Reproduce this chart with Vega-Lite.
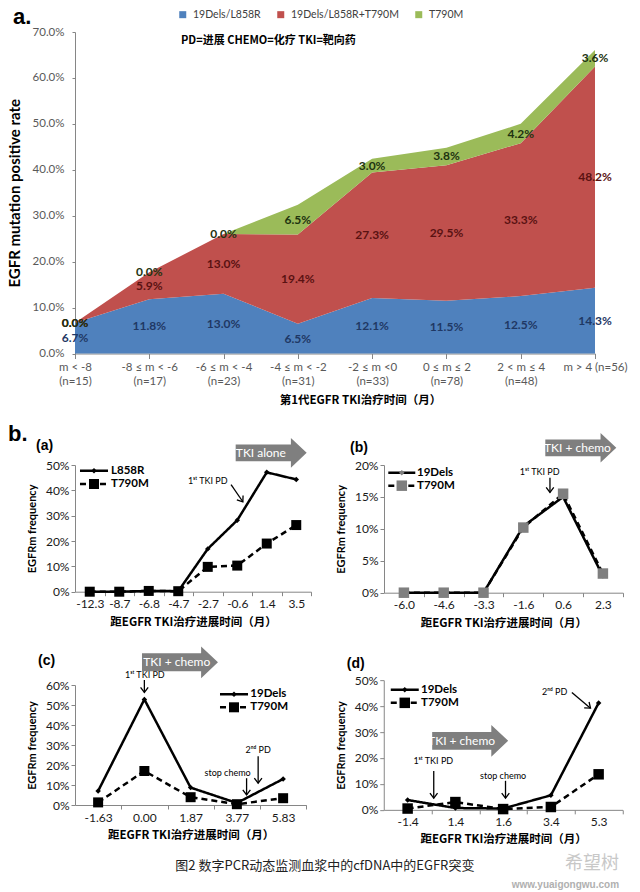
{
"$schema": "https://vega.github.io/schema/vega-lite/v6.json",
"padding": {"left": 7, "top": 6, "right": 5, "bottom": 0},
"config": {
  "view": {"stroke": null},
  "axis": {"grid": false, "domainColor": "#868686", "tickColor": "#868686", "labelFont": "Lato", "titleFont": "Lato"},
  "title": {"font": "Liberation Sans", "color": "black"},
  "legend": {"padding": 0}
},
"resolve": {"scale": {"color": "independent", "fill": "independent", "strokeDash": "independent", "shape": "independent", "size": "independent"}, "legend": {"color": "independent"}},
"datasets": {
  "rates": [
    {"i": 0, "k": 0, "series": "19Dels/L858R", "v": 0.067},
    {"i": 0, "k": 1, "series": "19Dels/L858R+T790M", "v": 0.0},
    {"i": 0, "k": 2, "series": "T790M", "v": 0.0},
    {"i": 1, "k": 0, "series": "19Dels/L858R", "v": 0.118},
    {"i": 1, "k": 1, "series": "19Dels/L858R+T790M", "v": 0.059},
    {"i": 1, "k": 2, "series": "T790M", "v": 0.0},
    {"i": 2, "k": 0, "series": "19Dels/L858R", "v": 0.13},
    {"i": 2, "k": 1, "series": "19Dels/L858R+T790M", "v": 0.13},
    {"i": 2, "k": 2, "series": "T790M", "v": 0.0},
    {"i": 3, "k": 0, "series": "19Dels/L858R", "v": 0.065},
    {"i": 3, "k": 1, "series": "19Dels/L858R+T790M", "v": 0.194},
    {"i": 3, "k": 2, "series": "T790M", "v": 0.065},
    {"i": 4, "k": 0, "series": "19Dels/L858R", "v": 0.121},
    {"i": 4, "k": 1, "series": "19Dels/L858R+T790M", "v": 0.273},
    {"i": 4, "k": 2, "series": "T790M", "v": 0.03},
    {"i": 5, "k": 0, "series": "19Dels/L858R", "v": 0.115},
    {"i": 5, "k": 1, "series": "19Dels/L858R+T790M", "v": 0.295},
    {"i": 5, "k": 2, "series": "T790M", "v": 0.038},
    {"i": 6, "k": 0, "series": "19Dels/L858R", "v": 0.125},
    {"i": 6, "k": 1, "series": "19Dels/L858R+T790M", "v": 0.333},
    {"i": 6, "k": 2, "series": "T790M", "v": 0.042},
    {"i": 7, "k": 0, "series": "19Dels/L858R", "v": 0.143},
    {"i": 7, "k": 1, "series": "19Dels/L858R+T790M", "v": 0.482},
    {"i": 7, "k": 2, "series": "T790M", "v": 0.036}
  ],
  "pa": [
    {"i": 0, "series": "L858R", "v": 0}, {"i": 1, "series": "L858R", "v": 0}, {"i": 2, "series": "L858R", "v": 0.3}, {"i": 3, "series": "L858R", "v": 0.2},
    {"i": 4, "series": "L858R", "v": 16.9}, {"i": 5, "series": "L858R", "v": 28.2}, {"i": 6, "series": "L858R", "v": 47.1}, {"i": 7, "series": "L858R", "v": 44.3},
    {"i": 0, "series": "T790M", "v": 0}, {"i": 1, "series": "T790M", "v": 0}, {"i": 2, "series": "T790M", "v": 0.3}, {"i": 3, "series": "T790M", "v": 0.2},
    {"i": 4, "series": "T790M", "v": 9.8}, {"i": 5, "series": "T790M", "v": 10.3}, {"i": 6, "series": "T790M", "v": 19.0}, {"i": 7, "series": "T790M", "v": 26.3}
  ],
  "pb": [
    {"i": 0, "series": "19Dels", "v": 0}, {"i": 1, "series": "19Dels", "v": 0}, {"i": 2, "series": "19Dels", "v": 0}, {"i": 3, "series": "19Dels", "v": 10.4}, {"i": 4, "series": "19Dels", "v": 15.0}, {"i": 5, "series": "19Dels", "v": 2.6},
    {"i": 0, "series": "T790M", "v": 0}, {"i": 1, "series": "T790M", "v": 0}, {"i": 2, "series": "T790M", "v": 0}, {"i": 3, "series": "T790M", "v": 10.2}, {"i": 4, "series": "T790M", "v": 15.5}, {"i": 5, "series": "T790M", "v": 3.0}
  ],
  "pc": [
    {"i": 0, "series": "19Dels", "v": 7.0}, {"i": 1, "series": "19Dels", "v": 52.8}, {"i": 2, "series": "19Dels", "v": 8.7}, {"i": 3, "series": "19Dels", "v": 1.0}, {"i": 4, "series": "19Dels", "v": 13.0},
    {"i": 0, "series": "T790M", "v": 1.3}, {"i": 1, "series": "T790M", "v": 17.0}, {"i": 2, "series": "T790M", "v": 3.9}, {"i": 3, "series": "T790M", "v": 0.4}, {"i": 4, "series": "T790M", "v": 3.4}
  ],
  "pd": [
    {"i": 0, "series": "19Dels", "v": 3.8}, {"i": 1, "series": "19Dels", "v": 0.7}, {"i": 2, "series": "19Dels", "v": 0.5}, {"i": 3, "series": "19Dels", "v": 5.6}, {"i": 4, "series": "19Dels", "v": 41.2},
    {"i": 0, "series": "T790M", "v": 0.5}, {"i": 1, "series": "T790M", "v": 3.0}, {"i": 2, "series": "T790M", "v": 0.3}, {"i": 3, "series": "T790M", "v": 1.1}, {"i": 4, "series": "T790M", "v": 13.7}
  ],
  "la": [
    {"series": "L858R", "i": -0.331, "i2": 0.619, "im": 0.144, "it": 0.72, "v": 47.75},
    {"series": "T790M", "i": -0.331, "i2": 0.619, "im": 0.144, "it": 0.72, "v": 42.5}
  ],
  "lb": [
    {"series": "19Dels", "i": -0.392, "i2": 0.286, "im": -0.053, "it": 0.33, "v": 18.79},
    {"series": "T790M", "i": -0.392, "i2": 0.286, "im": -0.053, "it": 0.33, "v": 16.76}
  ],
  "lc": [
    {"series": "19Dels", "i": 2.635, "i2": 3.241, "im": 2.938, "it": 3.29, "v": 55.35},
    {"series": "T790M", "i": 2.635, "i2": 3.241, "im": 2.938, "it": 3.29, "v": 48.85}
  ],
  "ld": [
    {"series": "19Dels", "i": -0.353, "i2": 0.233, "im": -0.06, "it": 0.28, "v": 46.26},
    {"series": "T790M", "i": -0.353, "i2": 0.233, "im": -0.06, "it": 0.28, "v": 41.25}
  ]
},
"spacing": 16,
"title": {"text": "希望树", "subtitle": "www.yuaigongwu.com", "orient": "bottom", "anchor": "end", "frame": "bounds", "font": "Noto Sans CJK SC", "fontSize": 18, "fontWeight": "normal", "color": "#c8c8c8", "subtitleFont": "Liberation Sans", "subtitleFontSize": 10, "subtitleFontWeight": "bold", "subtitleColor": "#b0b0b0", "subtitlePadding": 7, "offset": 0, "dy": -18, "dx": -8},
"vconcat": [
{
  "width": 520, "height": 321.5,
  "title": {"text": "a.", "anchor": "start", "frame": "group", "dx": -62, "dy": 20, "fontSize": 22, "fontWeight": "bold", "offset": 0},
  "layer": [
    {"data": {"name": "rates"}, "mark": {"type": "area", "interpolate": "linear", "opacity": 1},
     "encoding": {
       "x": {"field": "i", "type": "quantitative", "scale": {"domain": [0, 7], "nice": false, "zero": false},
             "axis": {"values": [0,1,2,3,4,5,6,7], "labelExpr": "split(['m < -8|(n=15)','-8 ≤ m < -6|(n=17)','-6 ≤ m < -4|(n=23)','-4 ≤ m < -2|(n=31)','-2 ≤ m <0|(n=33)','0 ≤ m ≤ 2|(n=78)','2 < m ≤ 4|(n=48)','m > 4 (n=56)'][datum.value], '|')",
                      "labelFlush": false, "labelOverlap": false, "labelColor": "#595959", "labelFontSize": 11.5, "labelLineHeight": 14, "labelPadding": 3, "tickSize": 5,
                      "title": "第1代EGFR TKI治疗时间（月）", "titleX": 285, "titleFont": "Noto Sans CJK SC", "titleFontSize": 11.5, "titleFontWeight": "bold", "titleColor": "black", "titlePadding": 7}},
       "y": {"field": "v", "type": "quantitative", "stack": "zero", "scale": {"domain": [0, 0.7], "nice": false},
             "axis": {"values": [0, 0.1, 0.2, 0.3, 0.4, 0.5, 0.6, 0.7], "format": ".1%", "labelOverlap": false, "labelColor": "#595959", "labelFontSize": 11.5, "tickSize": 3, "labelPadding": 8,
                      "title": "EGFR mutation positive rate", "titleFontSize": 15, "titleFontWeight": "bold", "titleColor": "black", "titlePadding": 10}},
       "color": {"field": "series", "type": "nominal", "scale": {"domain": ["19Dels/L858R", "19Dels/L858R+T790M", "T790M"], "range": ["#4F81BD", "#C0504D", "#9BBB59"]},
                 "legend": {"orient": "none", "legendX": 102.5, "legendY": -22.7, "direction": "horizontal", "title": null, "symbolType": "square", "symbolSize": 49, "symbolStrokeWidth": 0, "symbolOpacity": 1,
                            "labelFont": "Lato", "labelFontSize": 10.5, "labelColor": "#404040", "labelOffset": 5, "columnPadding": 14}},
       "order": {"field": "k", "type": "quantitative"}
     }},
    {"data": {"name": "rates"}, "mark": {"type": "text", "font": "Lato", "fontSize": 12, "fontWeight": "bold", "baseline": "middle"},
     "encoding": {
       "x": {"field": "i", "type": "quantitative"},
       "y": {"field": "v", "type": "quantitative", "stack": "zero", "bandPosition": 0.5},
       "detail": {"field": "series"},
       "order": {"field": "k", "type": "quantitative"},
       "text": {"field": "v", "type": "quantitative", "format": ".1%"},
       "fill": {"field": "series", "type": "nominal", "scale": {"domain": ["19Dels/L858R", "19Dels/L858R+T790M", "T790M"], "range": ["#1f3864", "#5a1212", "#1e3310"]}, "legend": null}
     }},
    {"data": {"values": [{"i": 1.427, "v": 0.68, "t": "PD=进展 CHEMO=化疗 TKI=靶向药"}]},
     "mark": {"type": "text", "align": "left", "baseline": "middle", "font": "Noto Sans CJK SC", "fontSize": 11, "fontWeight": "bold", "color": "black"},
     "encoding": {"x": {"field": "i", "type": "quantitative"}, "y": {"field": "v", "type": "quantitative"}, "text": {"field": "t"}}}
  ]
},
{
  "title": {"text": "b.", "anchor": "start", "frame": "group", "dx": -67, "dy": 13, "fontSize": 22, "fontWeight": "bold", "offset": 0},
  "bounds": "flush",
  "spacing": 73,
  "resolve": {"scale": {"strokeDash": "independent", "shape": "independent", "size": "independent"}},
  "hconcat": [
    {
      "width": 236, "height": 126.7,
      "title": {"text": "(a)", "anchor": "start", "frame": "group", "dx": -39, "dy": 15, "fontSize": 14, "fontWeight": "bold", "offset": 0},
      "encoding": {
        "x": {"field": "i", "type": "quantitative", "scale": {"domain": [-0.5, 7.5], "nice": false, "zero": false},
              "axis": {"values": [0,1,2,3,4,5,6,7], "labelExpr": "['-12.3','-8.7','-6.8','-4.7','-2.7','-0.6','1.4','3.5'][datum.value]", "tickOffset": 14.75, "labelOffset": -14.75,
                       "labelFlush": false, "labelOverlap": false, "labelFontSize": 12, "labelColor": "#1a1a1a", "tickSize": 4, "labelPadding": 3,
                       "title": "距EGFR TKI治疗进展时间（月）", "titleFont": "Noto Sans CJK SC", "titleFontSize": 11.5, "titleFontWeight": "bold", "titleColor": "black", "titlePadding": 7}},
        "y": {"field": "v", "type": "quantitative", "scale": {"domain": [0, 50], "nice": false},
              "axis": {"values": [0,10,20,30,40,50], "labelExpr": "datum.value + '%'", "labelOverlap": false, "labelFontSize": 12, "labelColor": "#1a1a1a", "tickSize": 4, "labelPadding": 2,
                       "title": "EGFRm frequency", "titleFontSize": 11, "titleFontWeight": "bold", "titleColor": "black", "titlePadding": 8}}
      },
      "layer": [
        {"data": {"name": "pa"}, "mark": {"type": "line", "color": "black", "strokeWidth": 2.5},
         "encoding": {"strokeDash": {"field": "series", "type": "nominal", "scale": {"domain": ["L858R", "T790M"], "range": [[1, 0], [6, 4]]}, "legend": null}}},
        {"data": {"name": "pa"}, "mark": {"type": "point", "filled": true, "color": "black", "opacity": 1},
         "encoding": {
           "shape": {"field": "series", "type": "nominal", "scale": {"domain": ["L858R", "T790M"], "range": ["diamond", "square"]}, "legend": null},
           "size": {"field": "series", "type": "ordinal", "scale": {"domain": ["L858R", "T790M"], "range": [30, 100]}, "legend": null}
         }},
        {"data": {"name": "la"}, "mark": {"type": "rule", "color": "black", "strokeWidth": 2.5},
         "encoding": {"x2": {"field": "i2"}, "y2": {"field": "v"}, "strokeDash": {"field": "series", "type": "nominal", "legend": null}}},
        {"data": {"name": "la"}, "mark": {"type": "point", "filled": true, "color": "black", "opacity": 1},
         "encoding": {"x": {"field": "im", "type": "quantitative"}, "shape": {"field": "series", "type": "nominal", "legend": null}, "size": {"field": "series", "type": "ordinal", "legend": null}}},
        {"data": {"name": "la"}, "mark": {"type": "text", "align": "left", "baseline": "middle", "font": "Lato", "fontSize": 11.5, "fontWeight": "bold", "color": "black"},
         "encoding": {"x": {"field": "it", "type": "quantitative"}, "text": {"field": "series"}}},
        {"data": {"values": [{"i": 4.79, "v": 42.3, "i2": 5.19, "v2": 35.5}]}, "mark": {"type": "rule", "color": "black", "strokeWidth": 1.3},
         "encoding": {"x2": {"field": "i2"}, "y2": {"field": "v2"}}},
        {"data": {"values": [{"i": 5.19, "v": 35.5}]}, "mark": {"type": "point", "shape": "M-0.6,-0.8L0,0L0.6,-0.8", "size": 160, "filled": false, "color": "black", "strokeWidth": 1.3, "angle": -35, "opacity": 1}},
        {"data": {"values": [{"i": 4.0, "v": 43.5, "t": "1ˢᵗ TKI PD"}]}, "mark": {"type": "text", "font": "Lato", "fontSize": 9, "color": "black", "baseline": "middle"},
         "encoding": {"text": {"field": "t"}}},
        {"data": {"values": [{"i": 6.15, "v": 54.8}]}, "mark": {"type": "point", "shape": "M-1,-0.236L0.556,-0.236L0.556,-0.417L1,0L0.556,0.417L0.556,0.236L-1,0.236Z", "size": 5041, "filled": true, "color": "#7f7f7f", "opacity": 1, "strokeWidth": 0}},
        {"data": {"values": [{"i": 5.8, "v": 54.8, "t": "TKI alone"}]}, "mark": {"type": "text", "font": "Lato", "fontSize": 12, "color": "white", "baseline": "middle"},
         "encoding": {"text": {"field": "t"}}}
      ]
    },
    {
      "width": 238.8, "height": 127.7,
      "title": {"text": "(b)", "anchor": "start", "frame": "group", "dx": -34, "dy": 22, "fontSize": 14, "fontWeight": "bold", "offset": 0},
      "encoding": {
        "x": {"field": "i", "type": "quantitative", "scale": {"domain": [-0.5, 5.5], "nice": false, "zero": false},
              "axis": {"values": [0,1,2,3,4,5], "labelExpr": "['-6.0','-4.6','-3.3','-1.6','0.6','2.3'][datum.value]", "tickOffset": 19.9, "labelOffset": -19.9,
                       "labelFlush": false, "labelOverlap": false, "labelFontSize": 12, "labelColor": "#1a1a1a", "tickSize": 4, "labelPadding": 3,
                       "title": "距EGFR TKI治疗进展时间（月）", "titleFont": "Noto Sans CJK SC", "titleFontSize": 11.5, "titleFontWeight": "bold", "titleColor": "black", "titlePadding": 7}},
        "y": {"field": "v", "type": "quantitative", "scale": {"domain": [0, 20], "nice": false},
              "axis": {"values": [0,5,10,15,20], "labelExpr": "datum.value + '%'", "labelOverlap": false, "labelFontSize": 12, "labelColor": "#1a1a1a", "tickSize": 4, "labelPadding": 2,
                       "title": "EGFRm frequency", "titleFontSize": 11, "titleFontWeight": "bold", "titleColor": "black", "titlePadding": 8}}
      },
      "layer": [
        {"data": {"name": "pb"}, "mark": {"type": "line", "color": "black", "strokeWidth": 2.5},
         "encoding": {"strokeDash": {"field": "series", "type": "nominal", "scale": {"domain": ["19Dels", "T790M"], "range": [[1, 0], [6, 4]]}, "legend": null}}},
        {"data": {"name": "pb"}, "mark": {"type": "point", "filled": true, "color": "#7f7f7f", "opacity": 1},
         "encoding": {
           "shape": {"field": "series", "type": "nominal", "scale": {"domain": ["19Dels", "T790M"], "range": ["diamond", "square"]}, "legend": null},
           "size": {"field": "series", "type": "ordinal", "scale": {"domain": ["19Dels", "T790M"], "range": [30, 110]}, "legend": null}
         }},
        {"data": {"name": "lb"}, "mark": {"type": "rule", "color": "black", "strokeWidth": 2.5},
         "encoding": {"x2": {"field": "i2"}, "y2": {"field": "v"}, "strokeDash": {"field": "series", "type": "nominal", "legend": null}}},
        {"data": {"name": "lb"}, "mark": {"type": "point", "filled": true, "color": "#7f7f7f", "opacity": 1},
         "encoding": {"x": {"field": "im", "type": "quantitative"}, "shape": {"field": "series", "type": "nominal", "legend": null}, "size": {"field": "series", "type": "ordinal", "legend": null}}},
        {"data": {"name": "lb"}, "mark": {"type": "text", "align": "left", "baseline": "middle", "font": "Lato", "fontSize": 11.5, "fontWeight": "bold", "color": "black"},
         "encoding": {"x": {"field": "it", "type": "quantitative"}, "text": {"field": "series"}}},
        {"data": {"values": [{"i": 3.67, "v": 18.0, "i2": 3.67, "v2": 15.7}]}, "mark": {"type": "rule", "color": "black", "strokeWidth": 1.3},
         "encoding": {"x2": {"field": "i2"}, "y2": {"field": "v2"}}},
        {"data": {"values": [{"i": 3.67, "v": 15.7}]}, "mark": {"type": "point", "shape": "M-0.6,-0.8L0,0L0.6,-0.8", "size": 160, "filled": false, "color": "black", "strokeWidth": 1.3, "opacity": 1}},
        {"data": {"values": [{"i": 3.41, "v": 18.9, "t": "1ˢᵗ TKI PD"}]}, "mark": {"type": "text", "font": "Lato", "fontSize": 9, "color": "black", "baseline": "middle"},
         "encoding": {"text": {"field": "t"}}},
        {"data": {"values": [{"i": 4.445, "v": 22.7}]}, "mark": {"type": "point", "shape": "M-1,-0.236L0.556,-0.236L0.556,-0.417L1,0L0.556,0.417L0.556,0.236L-1,0.236Z", "size": 5041, "filled": true, "color": "#7f7f7f", "opacity": 1, "strokeWidth": 0}},
        {"data": {"values": [{"i": 4.36, "v": 22.7, "t": "TKI + chemo"}]}, "mark": {"type": "text", "font": "Lato", "fontSize": 12, "color": "white", "baseline": "middle"},
         "encoding": {"text": {"field": "t"}}}
      ]
    }
  ]
},
{
  "title": {"text": "图2 数字PCR动态监测血浆中的cfDNA中的EGFR突变", "orient": "bottom", "anchor": "middle", "font": "Noto Sans CJK SC", "fontSize": 13, "fontWeight": "normal", "color": "#222222", "offset": 15},
  "bounds": "flush",
  "center": true,
  "spacing": 76.75,
  "resolve": {"scale": {"strokeDash": "independent", "shape": "independent", "size": "independent"}},
  "hconcat": [
    {
      "width": 231.25, "height": 120,
      "title": {"text": "(c)", "anchor": "start", "frame": "group", "dx": -37, "dy": 22, "fontSize": 14, "fontWeight": "bold", "offset": 0},
      "encoding": {
        "x": {"field": "i", "type": "quantitative", "scale": {"domain": [-0.5, 4.5], "nice": false, "zero": false},
              "axis": {"values": [0,1,2,3,4], "labelExpr": "['-1.63','0.00','1.87','3.77','5.83'][datum.value]", "tickOffset": 23.125, "labelOffset": -23.125,
                       "labelFlush": false, "labelOverlap": false, "labelFontSize": 12, "labelColor": "#1a1a1a", "tickSize": 4, "labelPadding": 3,
                       "title": "距EGFR TKI治疗进展时间（月）", "titleFont": "Noto Sans CJK SC", "titleFontSize": 11.5, "titleFontWeight": "bold", "titleColor": "black", "titlePadding": 6}},
        "y": {"field": "v", "type": "quantitative", "scale": {"domain": [0, 60], "nice": false},
              "axis": {"values": [0,10,20,30,40,50,60], "labelExpr": "datum.value + '%'", "labelOverlap": false, "labelFontSize": 12, "labelColor": "#1a1a1a", "tickSize": 4, "labelPadding": 2,
                       "title": "EGFRm frequency", "titleFontSize": 11, "titleFontWeight": "bold", "titleColor": "black", "titlePadding": 8}}
      },
      "layer": [
        {"data": {"name": "pc"}, "mark": {"type": "line", "color": "black", "strokeWidth": 2.5},
         "encoding": {"strokeDash": {"field": "series", "type": "nominal", "scale": {"domain": ["19Dels", "T790M"], "range": [[1, 0], [6, 4]]}, "legend": null}}},
        {"data": {"name": "pc"}, "mark": {"type": "point", "filled": true, "color": "black", "opacity": 1},
         "encoding": {
           "shape": {"field": "series", "type": "nominal", "scale": {"domain": ["19Dels", "T790M"], "range": ["diamond", "square"]}, "legend": null},
           "size": {"field": "series", "type": "ordinal", "scale": {"domain": ["19Dels", "T790M"], "range": [30, 100]}, "legend": null}
         }},
        {"data": {"name": "lc"}, "mark": {"type": "rule", "color": "black", "strokeWidth": 2.5},
         "encoding": {"x2": {"field": "i2"}, "y2": {"field": "v"}, "strokeDash": {"field": "series", "type": "nominal", "legend": null}}},
        {"data": {"name": "lc"}, "mark": {"type": "point", "filled": true, "color": "black", "opacity": 1},
         "encoding": {"x": {"field": "im", "type": "quantitative"}, "shape": {"field": "series", "type": "nominal", "legend": null}, "size": {"field": "series", "type": "ordinal", "legend": null}}},
        {"data": {"name": "lc"}, "mark": {"type": "text", "align": "left", "baseline": "middle", "font": "Lato", "fontSize": 11.5, "fontWeight": "bold", "color": "black"},
         "encoding": {"x": {"field": "it", "type": "quantitative"}, "text": {"field": "series"}}},
        {"data": {"values": [{"i": 1.0, "v": 62.5, "i2": 1.0, "v2": 56.3}, {"i": 3.21, "v": 13.4, "i2": 3.21, "v2": 5.0}, {"i": 3.46, "v": 24.4, "i2": 3.46, "v2": 10.9}]}, "mark": {"type": "rule", "color": "black", "strokeWidth": 1.3},
         "encoding": {"x2": {"field": "i2"}, "y2": {"field": "v2"}}},
        {"data": {"values": [{"i": 1.0, "v": 56.3}, {"i": 3.21, "v": 5.0}, {"i": 3.46, "v": 10.9}]}, "mark": {"type": "point", "shape": "M-0.6,-0.8L0,0L0.6,-0.8", "size": 160, "filled": false, "color": "black", "strokeWidth": 1.3, "opacity": 1}},
        {"data": {"values": [{"i": 1.01, "v": 65.0, "t": "1ˢᵗ TKI PD"}, {"i": 2.8, "v": 16.0, "t": "stop chemo"}, {"i": 3.46, "v": 27.7, "t": "2ⁿᵈ PD"}]}, "mark": {"type": "text", "font": "Lato", "fontSize": 9, "color": "black", "baseline": "middle"},
         "encoding": {"text": {"field": "t"}}},
        {"data": {"values": [{"i": 1.77, "v": 71.35}]}, "mark": {"type": "point", "shape": "M-1,-0.236L0.556,-0.236L0.556,-0.417L1,0L0.556,0.417L0.556,0.236L-1,0.236Z", "size": 5776, "filled": true, "color": "#7f7f7f", "opacity": 1, "strokeWidth": 0}},
        {"data": {"values": [{"i": 1.7, "v": 71.35, "t": "TKI + chemo"}]}, "mark": {"type": "text", "font": "Lato", "fontSize": 12, "color": "white", "baseline": "middle"},
         "encoding": {"text": {"field": "t"}}}
      ]
    },
    {
      "width": 238.75, "height": 129.7,
      "title": {"text": "(d)", "anchor": "start", "frame": "group", "dx": -37, "dy": -3, "fontSize": 14, "fontWeight": "bold", "offset": 0},
      "encoding": {
        "x": {"field": "i", "type": "quantitative", "scale": {"domain": [-0.5, 4.5], "nice": false, "zero": false},
              "axis": {"values": [0,1,2,3,4], "labelExpr": "['-1.4','1.4','1.6','3.4','5.3'][datum.value]", "tickOffset": 23.875, "labelOffset": -23.875,
                       "labelFlush": false, "labelOverlap": false, "labelFontSize": 12, "labelColor": "#1a1a1a", "tickSize": 4, "labelPadding": 3,
                       "title": "距EGFR TKI治疗进展时间（月）", "titleFont": "Noto Sans CJK SC", "titleFontSize": 11.5, "titleFontWeight": "bold", "titleColor": "black", "titlePadding": 6}},
        "y": {"field": "v", "type": "quantitative", "scale": {"domain": [0, 50], "nice": false},
              "axis": {"values": [0,10,20,30,40,50], "labelExpr": "datum.value + '%'", "labelOverlap": false, "labelFontSize": 12, "labelColor": "#1a1a1a", "tickSize": 4, "labelPadding": 2,
                       "title": "EGFRm frequency", "titleFontSize": 11, "titleFontWeight": "bold", "titleColor": "black", "titlePadding": 8}}
      },
      "layer": [
        {"data": {"name": "pd"}, "mark": {"type": "line", "color": "black", "strokeWidth": 2.5},
         "encoding": {"strokeDash": {"field": "series", "type": "nominal", "scale": {"domain": ["19Dels", "T790M"], "range": [[1, 0], [6, 4]]}, "legend": null}}},
        {"data": {"name": "pd"}, "mark": {"type": "point", "filled": true, "color": "black", "opacity": 1},
         "encoding": {
           "shape": {"field": "series", "type": "nominal", "scale": {"domain": ["19Dels", "T790M"], "range": ["diamond", "square"]}, "legend": null},
           "size": {"field": "series", "type": "ordinal", "scale": {"domain": ["19Dels", "T790M"], "range": [30, 110]}, "legend": null}
         }},
        {"data": {"name": "ld"}, "mark": {"type": "rule", "color": "black", "strokeWidth": 2.5},
         "encoding": {"x2": {"field": "i2"}, "y2": {"field": "v"}, "strokeDash": {"field": "series", "type": "nominal", "legend": null}}},
        {"data": {"name": "ld"}, "mark": {"type": "point", "filled": true, "color": "black", "opacity": 1},
         "encoding": {"x": {"field": "im", "type": "quantitative"}, "shape": {"field": "series", "type": "nominal", "legend": null}, "size": {"field": "series", "type": "ordinal", "legend": null}}},
        {"data": {"name": "ld"}, "mark": {"type": "text", "align": "left", "baseline": "middle", "font": "Lato", "fontSize": 11.5, "fontWeight": "bold", "color": "black"},
         "encoding": {"x": {"field": "it", "type": "quantitative"}, "text": {"field": "series"}}},
        {"data": {"values": [{"i": 0.547, "v": 15.0, "i2": 0.547, "v2": 4.5}, {"i": 2.05, "v": 11.2, "i2": 2.05, "v2": 4.5}, {"i": 3.44, "v": 45.2, "i2": 3.83, "v2": 39.2}]}, "mark": {"type": "rule", "color": "black", "strokeWidth": 1.3},
         "encoding": {"x2": {"field": "i2"}, "y2": {"field": "v2"}}},
        {"data": {"values": [{"i": 0.547, "v": 4.5}, {"i": 2.05, "v": 4.5}]}, "mark": {"type": "point", "shape": "M-0.6,-0.8L0,0L0.6,-0.8", "size": 160, "filled": false, "color": "black", "strokeWidth": 1.3, "opacity": 1}},
        {"data": {"values": [{"i": 3.83, "v": 39.2}]}, "mark": {"type": "point", "shape": "M-0.6,-0.8L0,0L0.6,-0.8", "size": 160, "filled": false, "color": "black", "strokeWidth": 1.3, "angle": -50, "opacity": 1}},
        {"data": {"values": [{"i": 0.537, "v": 18.7, "t": "1ˢᵗ TKI PD"}, {"i": 2.0, "v": 13.2, "t": "stop chemo"}, {"i": 3.08, "v": 45.6, "t": "2ⁿᵈ PD"}]}, "mark": {"type": "text", "font": "Lato", "fontSize": 9, "color": "black", "baseline": "middle"},
         "encoding": {"text": {"field": "t"}}},
        {"data": {"values": [{"i": 1.31, "v": 26.6}]}, "mark": {"type": "point", "shape": "M-1,-0.236L0.556,-0.236L0.556,-0.417L1,0L0.556,0.417L0.556,0.236L-1,0.236Z", "size": 5776, "filled": true, "color": "#7f7f7f", "opacity": 1, "strokeWidth": 0}},
        {"data": {"values": [{"i": 1.13, "v": 26.6, "t": "TKI + chemo"}]}, "mark": {"type": "text", "font": "Lato", "fontSize": 12, "color": "white", "baseline": "middle"},
         "encoding": {"text": {"field": "t"}}}
      ]
    }
  ]
}
]
}
